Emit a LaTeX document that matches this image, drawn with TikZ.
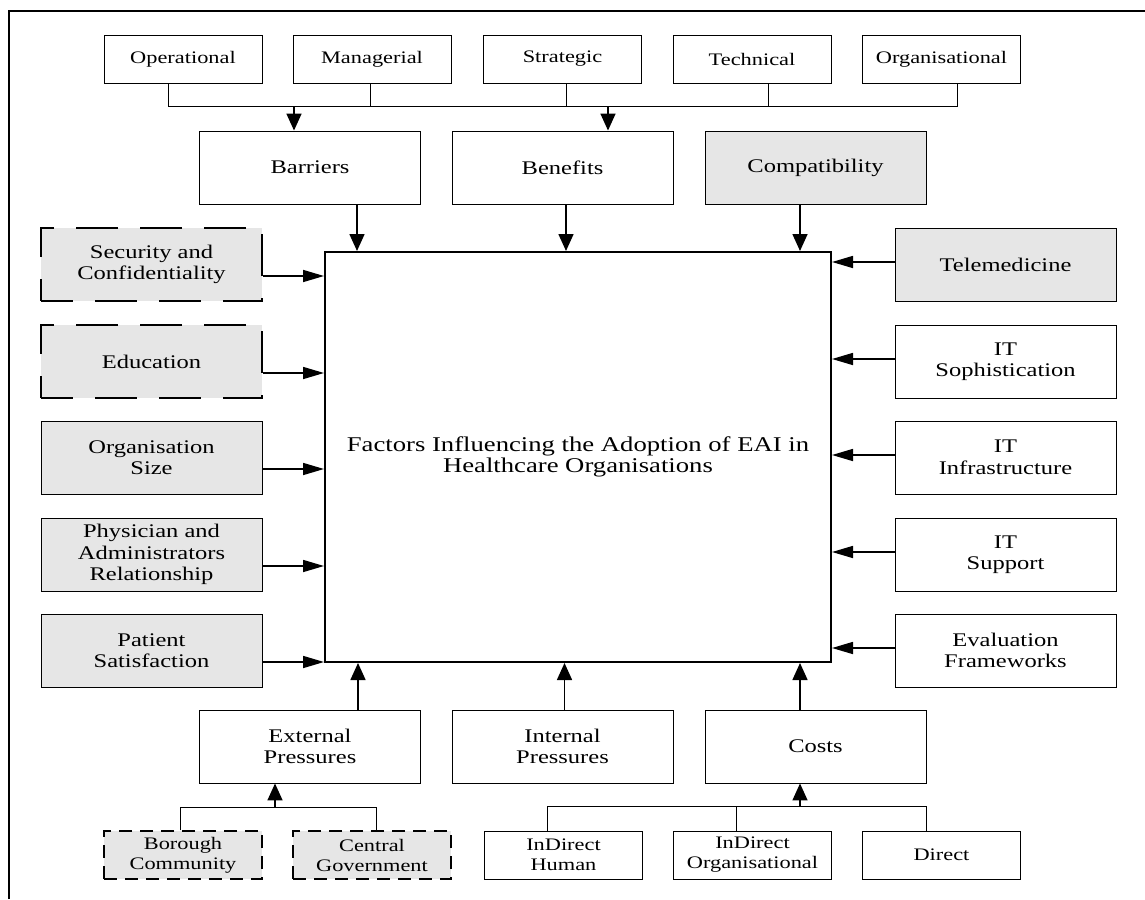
\documentclass[tikz,border=0pt]{standalone}
\usepackage{fontspec}
\setmainfont[FakeStretch=1.27]{Liberation Serif}
\usetikzlibrary{arrows.meta}
\definecolor{boxgray}{HTML}{E6E6E6}
\tikzset{
  box/.style={draw, line width=0.9pt, align=center, inner sep=0pt},
  shaded/.style={fill=boxgray},
  smallbox/.style={box, minimum width=158pt, minimum height=48pt,
    font=\fontsize{17.6}{20}\selectfont},
  bigbox/.style={box, minimum width=221pt, minimum height=73pt,
    font=\fontsize{19.3}{21.5}\selectfont},
  longdash/.style={line width=2pt, dash pattern=on 42pt off 22pt, dash phase=10pt},
  shortdash/.style={line width=1.2pt, dash pattern=on 13pt off 8pt},
  varr/.style={line width=1.6pt, -{Triangle[length=17pt,width=15pt]}},
  harr/.style={line width=1.6pt, -{Triangle[length=21pt,width=12pt]}},
  bus/.style={line width=0.9pt}
}
\begin{document}
\begin{tikzpicture}[x=1pt,y=-1pt]
\useasboundingbox (0,0) rectangle (1145,899);
\draw [line width=1.8pt] (9,899) -- (9,11) -- (1145,11);

\node [smallbox] (oper) at (183,59) {Operational};
\node [smallbox] (mana) at (372,59) {Managerial};
\node [smallbox] (strat) at (562.5,59) {Strategic};
\node [smallbox] (tech) at (752,59) {Technical};
\node [smallbox] (orgn) at (941.5,59) {Organisational};

\node [bigbox] (barr) at (310,167.5) {Barriers};
\node [bigbox] (bene) at (562.5,167.5) {Benefits};
\node [bigbox, shaded] (comp) at (815.5,167.5) {Compatibility};

\node [box, minimum width=506pt, minimum height=410pt, line width=2pt,
  font=\fontsize{21}{21.5}\selectfont] (main) at (578,457)
  {Factors Influencing the Adoption of EAI in\\Healthcare Organisations};

\node [bigbox, shaded, longdash] (secu) at (151.5,264.5) {Security and\\Confidentiality};
\node [bigbox, shaded, longdash] (educ) at (151.5,361.5) {Education};
\node [bigbox, shaded] (osize) at (151.5,457.5) {Organisation\\Size};
\node [bigbox, shaded] (phys) at (151.5,554.5) {Physician and\\Administrators\\Relationship};
\node [bigbox, shaded] (pati) at (151.5,650.5) {Patient\\Satisfaction};

\node [bigbox, shaded] (tele) at (1005.5,264.5) {Telemedicine};
\node [bigbox] (itsoph) at (1005.5,361.5) {IT\\Sophistication};
\node [bigbox] (itinf) at (1005.5,457.5) {IT\\Infrastructure};
\node [bigbox] (itsup) at (1005.5,554.5) {IT\\Support};
\node [bigbox] (eval) at (1005.5,650.5) {Evaluation\\Frameworks};

\node [bigbox] (extp) at (310,746.5) {External\\Pressures};
\node [bigbox] (intp) at (562.5,746.5) {Internal\\Pressures};
\node [bigbox] (cost) at (815.5,746.5) {Costs};

\node [smallbox, shaded, shortdash] (boro) at (183,855) {Borough\\Community};
\node [smallbox, shaded, shortdash] (cgov) at (372,855) {Central\\Government};
\node [smallbox] (indh) at (563.5,855) {InDirect\\Human};
\node [smallbox] (indo) at (752.5,855) {InDirect\\Organisational};
\node [smallbox] (dire) at (941.5,855) {Direct};

% top bus
\coordinate (tbus) at (0,106);
\draw [bus] ([xshift=-15pt]oper.south) |- ([xshift=16pt]orgn.south |- tbus) -- ([xshift=16pt]orgn.south);
\draw [bus] ([xshift=-2pt]mana.south) -- ([xshift=-2pt]mana.south |- tbus);
\draw [bus] ([xshift=4pt]strat.south) -- ([xshift=4pt]strat.south |- tbus);
\draw [bus] ([xshift=16pt]tech.south) -- ([xshift=16pt]tech.south |- tbus);
\draw [varr] ([xshift=-16pt]barr.north |- tbus) -- ([xshift=-16pt]barr.north);
\draw [varr] ([xshift=45.5pt]bene.north |- tbus) -- ([xshift=45.5pt]bene.north);

\draw [varr] ([xshift=47pt]barr.south) -- ([xshift=47pt]barr.south |- main.north);
\draw [varr] ([xshift=3.5pt]bene.south) -- ([xshift=3.5pt]bene.south |- main.north);
\draw [varr] ([xshift=-15.5pt]comp.south) -- ([xshift=-15.5pt]comp.south |- main.north);

\foreach \n in {secu,educ,osize,phys,pati}
  \draw [harr] ([yshift=-11.5pt]\n.east) -- ([yshift=-11.5pt]\n.east -| main.west);
\foreach \n in {tele,itsoph,itinf,itsup,eval}
  \draw [harr] ([yshift=2.5pt]\n.west) -- ([yshift=2.5pt]\n.west -| main.east);

\draw [varr] ([xshift=48pt]extp.north) -- ([xshift=48pt]extp.north |- main.south);
\draw [varr] ([xshift=2pt]intp.north) -- ([xshift=2pt]intp.north |- main.south);
\draw [varr] ([xshift=-15.5pt]cost.north) -- ([xshift=-15.5pt]cost.north |- main.south);

% bottom buses
\coordinate (ebus) at (0,807);
\draw [bus] ([xshift=-3pt]boro.north) |- ([xshift=4pt]cgov.north |- ebus) -- ([xshift=4pt]cgov.north);
\draw [varr] ([xshift=-35pt]extp.south |- ebus) -- ([xshift=-35pt]extp.south);

\coordinate (cbus) at (0,806);
\draw [bus] ([xshift=-16.5pt]indh.north) |- ([xshift=-15.5pt]dire.north |- cbus) -- ([xshift=-15.5pt]dire.north);
\draw [bus] ([xshift=-16.5pt]indo.north) -- ([xshift=-16.5pt]indo.north |- cbus);
\draw [varr] ([xshift=-15.5pt]cost.south |- cbus) -- ([xshift=-15.5pt]cost.south);
\end{tikzpicture}
\end{document}
